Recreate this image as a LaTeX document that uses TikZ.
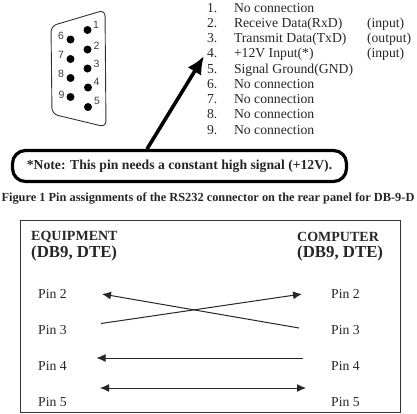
\documentclass[tikz,border=0pt]{standalone}
\usepackage{fontspec}
\setmainfont{Liberation Serif}
\newfontfamily\pinfont{Liberation Sans}
\usepackage{tikz}
\usetikzlibrary{positioning, arrows.meta}
\tikzset{
  item/.style={inner sep=0pt, outer sep=0pt, minimum height=15.25pt, text height=9pt, text depth=3pt,
               anchor=west, font=\fontsize{13.7}{15}\selectfont, text=black!85},
  dot/.style={circle, fill=black, inner sep=0pt, minimum size=8pt},
  num/.style={inner sep=0pt, font=\pinfont\fontsize{10.5}{12}\selectfont, text=black!75},
  pinlab/.style={inner sep=0pt, anchor=west, font=\fontsize{13.7}{15}\selectfont, text=black!85},
  head/.style={inner sep=0pt, anchor=west, font=\bfseries\fontsize{14}{16}\selectfont, text=black!85},
  headb/.style={inner sep=0pt, anchor=west, font=\bfseries\fontsize{16.8}{19}\selectfont, text=black!85},
  arr/.style={-{Latex[length=9pt,width=8pt]}, line width=1pt, black!85},
}
\begin{document}
\begin{tikzpicture}[x=1pt, y=-1pt, node distance=0pt]
  \useasboundingbox (0,0) rectangle (417,413);
  % connector shell
  \draw[line width=0.9pt, black!80, rounded corners=6pt]
    (105,10) -- (51,26) -- (52,114) -- (106,127) -- cycle;
  \node[dot] (p1) at (87.5,30) {};
  \node[dot] (p2) at (87.5,49.5) {};
  \node[dot] (p3) at (87.5,68.5) {};
  \node[dot] (p4) at (88,87.5) {};
  \node[dot] (p5) at (88,107) {};
  \node[dot] (p6) at (70.5,39.5) {};
  \node[dot] (p7) at (70.5,59) {};
  \node[dot] (p8) at (70.5,78) {};
  \node[dot] (p9) at (70.5,97) {};
  \node[num] (n1) at (96,25) {1};
  \node[num] (n2) at (96.5,45.5) {2};
  \node[num] (n3) at (96.5,63.5) {3};
  \node[num] (n4) at (96.5,82) {4};
  \node[num] (n5) at (97,100.5) {5};
  \node[num] (n6) at (61,36) {6};
  \node[num] (n7) at (61,55) {7};
  \node[num] (n8) at (61,73.5) {8};
  \node[num] (n9) at (61.5,94.5) {9};
  % pin list
  \node[item] (i1) at (207,9) {1.};
  \node[item, below=of i1.south west, anchor=north west] (i2) {2.};
  \node[item, below=of i2.south west, anchor=north west] (i3) {3.};
  \node[item, below=of i3.south west, anchor=north west] (i4) {4.};
  \node[item, below=of i4.south west, anchor=north west] (i5) {5.};
  \node[item, below=of i5.south west, anchor=north west] (i6) {6.};
  \node[item, below=of i6.south west, anchor=north west] (i7) {7.};
  \node[item, below=of i7.south west, anchor=north west] (i8) {8.};
  \node[item, below=of i8.south west, anchor=north west] (i9) {9.};
  \node[item] (t1) at (234,9) {No connection};
  \node[item, below=of t1.south west, anchor=north west] (t2) {Receive Data(RxD)};
  \node[item, below=of t2.south west, anchor=north west] (t3) {Transmit Data(TxD)};
  \node[item, below=of t3.south west, anchor=north west] (t4) {+12V Input(*)};
  \node[item, below=of t4.south west, anchor=north west] (t5) {Signal Ground(GND)};
  \node[item, below=of t5.south west, anchor=north west] (t6) {No connection};
  \node[item, below=of t6.south west, anchor=north west] (t7) {No connection};
  \node[item, below=of t7.south west, anchor=north west] (t8) {No connection};
  \node[item, below=of t8.south west, anchor=north west] (t9) {No connection};
  \node[item] (d2) at (367,24.25) {(input)};
  \node[item, below=of d2.south west, anchor=north west] (d3) {(output)};
  \node[item, below=of d3.south west, anchor=north west] (d4) {(input)};
  % note and its arrow
  \node[draw, line width=3.2pt, rounded corners=13pt, minimum width=334pt, minimum height=31pt,
        inner sep=0pt, font=\bfseries\fontsize{13.7}{15}\selectfont, text=black!85] (note) at (179.5,166)
        {*Note: This pin needs a constant high signal (+12V).};
  \coordinate (notetop) at (147,149);
  \coordinate (item4) at (204,56);
  \draw[-{Latex[length=18pt,width=16pt]}, line width=3.6pt] (notetop) -- (item4);
  \node[inner sep=0pt, font=\bfseries\fontsize{12.35}{14}\selectfont, text=black!85] (caption) at (208,199)
        {Figure 1 Pin assignments of the RS232 connector on the rear panel for DB-9-D};
  % wiring box
  \node[draw, line width=0.9pt, black!80, minimum width=380pt, minimum height=192pt, inner sep=0pt] (frame) at (210,316) {};
  \node[head] (eq) at (31,236.5) {EQUIPMENT};
  \node[headb] (eqdb) at (31,253) {(DB9, DTE)};
  \node[head] (co) at (297,236.5) {COMPUTER};
  \node[headb] (codb) at (297,253) {(DB9, DTE)};
  \node[pinlab] (l2) at (38,294) {Pin 2};
  \node[pinlab] (l3) at (38,330) {Pin 3};
  \node[pinlab] (l4) at (38,366) {Pin 4};
  \node[pinlab] (l5) at (38,402) {Pin 5};
  \node[pinlab] (r2) at (331,294) {Pin 2};
  \node[pinlab] (r3) at (331,330) {Pin 3};
  \node[pinlab] (r4) at (331,366) {Pin 4};
  \node[pinlab] (r5) at (331,402) {Pin 5};
  \coordinate (a2) at (102,294);
  \coordinate (b3) at (299,328);
  \coordinate (a3) at (101,323.5);
  \coordinate (b2) at (302,294);
  \coordinate (a4) at (96.5,358);
  \coordinate (b4) at (303,358);
  \coordinate (a5) at (100,388);
  \coordinate (b5) at (306,388);
  \draw[arr] (b3) -- (a2);
  \draw[arr] (a3) -- (b2);
  \draw[arr] (b4) -- (a4);
  \draw[arr, {Latex[length=9pt,width=8pt]}-{Latex[length=9pt,width=8pt]}] (a5) -- (b5);
\end{tikzpicture}
\end{document}
